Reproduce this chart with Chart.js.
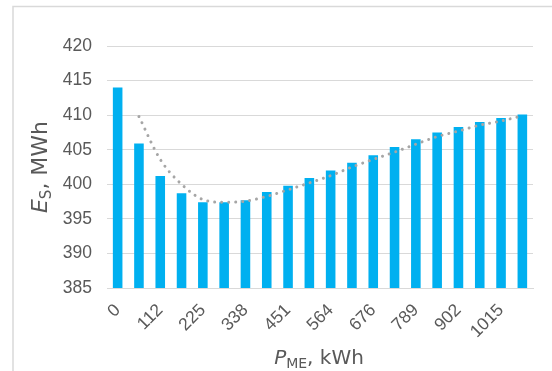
<!DOCTYPE html>
<html>
<head>
<meta charset="utf-8">
<script src="https://cdn.jsdelivr.net/npm/chart.js@4.4.1/dist/chart.umd.min.js"></script>
<style>
  html, body { margin: 0; padding: 0; background: #ffffff; }
  #wrap { position: relative; width: 552px; height: 371px; }
</style>
</head>
<body>
<div id="wrap"><canvas id="chart" width="552" height="371"></canvas></div>
<script>
// Main-engine power steps, kWh
const categories = ['0', '56', '112', '169', '225', '282', '338', '395', '451', '507',
                    '564', '620', '676', '733', '789', '846', '902', '958', '1015', '1071'];
// Energy consumption E_S, MWh
const energyValues = [414.0, 405.9, 401.2, 398.7, 397.4, 397.4, 397.7, 398.9, 399.8, 400.9,
                      402.0, 403.1, 404.2, 405.4, 406.5, 407.5, 408.3, 409.0, 409.6, 410.1];
// Polynomial trend through the series (starts at the second step)
const trendValues = [null, 409.8, 403.6, 400.0, 397.8, 397.4, 397.55, 398.25, 399.2, 400.2,
                     401.25, 402.5, 403.6, 404.65, 405.8, 406.9, 407.7, 408.55, 409.15, 409.9];
// Value axis ticks
const yTicks = [385, 390, 395, 400, 405, 410, 415, 420];

const textGray = '#595959';
const gridGray = '#d9d9d9';
const TICK_FONT = '"Liberation Sans", Arial, sans-serif';
const TITLE_FONT = '"DejaVu Sans", sans-serif';

// Draws a title made of runs (main text, subscript), centred on (cx, cy)
function drawTitle(ctx, parts, cx, cy, rotate) {
  ctx.save();
  ctx.translate(cx, cy);
  if (rotate) ctx.rotate(-Math.PI / 2);
  ctx.fillStyle = textGray;
  ctx.textBaseline = 'alphabetic';
  ctx.textAlign = 'left';
  let total = 0;
  parts.forEach(p => { ctx.font = p.font; total += ctx.measureText(p.text).width; });
  let x = -total / 2;
  parts.forEach(p => {
    ctx.font = p.font;
    ctx.fillText(p.text, x, p.dy || 0);
    x += ctx.measureText(p.text).width;
  });
  ctx.restore();
}

// Axis titles with subscripts, plus the outer frame
const decorations = {
  id: 'decorations',
  afterDraw(chart) {
    const ctx = chart.ctx;
    const area = chart.chartArea;

    ctx.save();
    ctx.strokeStyle = '#d9d9d9';
    ctx.lineWidth = 1.5;
    ctx.strokeRect(13, 6.5, 600, 400);
    ctx.restore();

    drawTitle(ctx, [
      { text: 'P', font: `italic 20px ${TITLE_FONT}` },
      { text: 'ME', font: `14px ${TITLE_FONT}`, dy: 4 },
      { text: ', kWh', font: `20px ${TITLE_FONT}` }
    ], (area.left + area.right) / 2 - 1, 364, false);

    drawTitle(ctx, [
      { text: 'E', font: `italic 22px ${TITLE_FONT}` },
      { text: 'S', font: `15px ${TITLE_FONT}`, dy: 4 },
      { text: ', MWh', font: `22px ${TITLE_FONT}` }
    ], 47, (area.top + area.bottom) / 2, true);
  }
};

new Chart(document.getElementById('chart'), {
  data: {
    labels: categories,
    datasets: [
      {
        type: 'line',
        label: 'Trend',
        data: trendValues,
        borderColor: '#a6a6a6',
        borderWidth: 3,
        borderDash: [0.01, 7],
        borderCapStyle: 'round',
        pointRadius: 0,
        fill: false,
        cubicInterpolationMode: 'monotone',
        order: 0
      },
      {
        type: 'bar',
        label: 'E_S',
        data: energyValues,
        backgroundColor: '#00b0f0',
        borderWidth: 0,
        categoryPercentage: 1.0,
        barPercentage: 0.45,
        order: 1
      }
    ]
  },
  options: {
    responsive: false,
    animation: false,
    devicePixelRatio: 1,
    layout: { padding: { top: 46, right: 19, left: 0, bottom: 0 } },
    plugins: {
      legend: { display: false },
      tooltip: { enabled: false }
    },
    scales: {
      x: {
        grid: { display: false, drawTicks: false },
        border: { display: true, color: gridGray, width: 1 },
        ticks: {
          autoSkip: false,
          maxRotation: 45,
          minRotation: 45,
          padding: 12,
          color: textGray,
          font: { family: TICK_FONT, size: 17.5 },
          callback: (v, i) => (i % 2 === 0 ? categories[i] : '')
        },
        afterFit(scale) { scale.height = 83; }
      },
      y: {
        min: 385,
        max: 420,
        afterBuildTicks(scale) { scale.ticks = yTicks.map(v => ({ value: v })); },
        grid: { color: gridGray, lineWidth: 1, drawTicks: false },
        border: { display: false },
        ticks: {
          padding: 15,
          color: textGray,
          font: { family: TICK_FONT, size: 17.5 }
        },
        afterFit(scale) { scale.width = 107; }
      }
    }
  },
  plugins: [decorations]
});
</script>
</body>
</html>
